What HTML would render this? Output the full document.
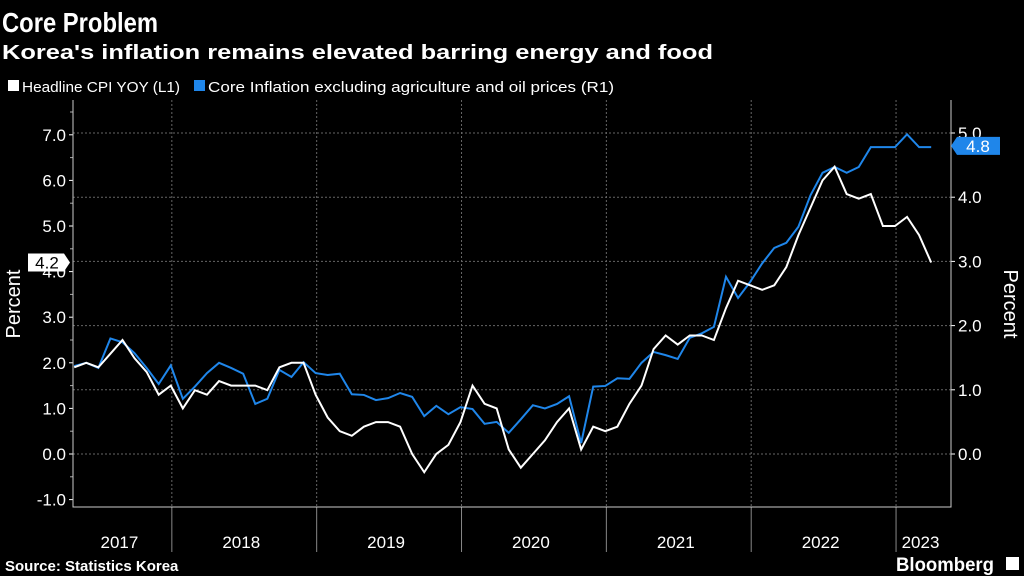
<!DOCTYPE html>
<html><head><meta charset="utf-8"><style>
html,body{margin:0;padding:0;background:#000;width:1024px;height:576px;overflow:hidden}
svg{display:block;font-family:"Liberation Sans",sans-serif}
</style></head><body>
<svg id="chart" width="1024" height="576" xmlns="http://www.w3.org/2000/svg">
<rect width="1024" height="576" fill="#000"/>
<text x="2" y="32" fill="#fff" font-size="28" font-weight="bold" textLength="156" lengthAdjust="spacingAndGlyphs">Core Problem</text>
<text x="2" y="59" fill="#fff" font-size="20" font-weight="bold" textLength="711" lengthAdjust="spacingAndGlyphs">Korea's inflation remains elevated barring energy and food</text>
<g>
<rect x="8" y="80" width="11" height="11" fill="#fff"/>
<text x="22" y="92" fill="#fff" font-size="15" textLength="158" lengthAdjust="spacingAndGlyphs">Headline CPI YOY (L1)</text>
<rect x="194" y="80" width="11" height="11" fill="#1f86ea"/>
<text x="208" y="92" fill="#fff" font-size="15" textLength="406" lengthAdjust="spacingAndGlyphs">Core Inflation excluding agriculture and oil prices (R1)</text>
</g>
<g id="grid"></g>
<g id="axes"></g>
<g id="series"></g>
<text transform="translate(20,304) rotate(-90)" text-anchor="middle" fill="#fff" font-size="20">Percent</text>
<text transform="translate(1004,304) rotate(90)" text-anchor="middle" fill="#fff" font-size="20">Percent</text>
<text x="5" y="571" fill="#fff" font-size="15" font-weight="bold">Source: Statistics Korea</text>
<text x="896" y="571" fill="#fff" font-size="19" font-weight="bold" textLength="98" lengthAdjust="spacingAndGlyphs">Bloomberg</text>
<rect x="1006" y="557" width="13" height="13" fill="#fff"/>
</svg>
<script>
const years = ["2017","2018","2019","2020","2021","2022","2023"];
const leftTicks = [-1,0,1,2,3,4,5,6,7];
const rightTicks = [0,1,2,3,4,5];
const startIndex = 3; // Apr 2017, months from Jan 2017
const headline = [1.9,2.0,1.9,2.2,2.5,2.1,1.8,1.3,1.5,1.0,1.4,1.3,1.6,1.5,1.5,1.5,1.4,1.9,2.0,2.0,1.3,0.8,0.5,0.4,0.6,0.7,0.7,0.6,0.0,-0.4,0.0,0.2,0.7,1.5,1.1,1.0,0.1,-0.3,0.0,0.3,0.7,1.0,0.1,0.6,0.5,0.6,1.1,1.5,2.3,2.6,2.4,2.6,2.6,2.5,3.2,3.8,3.7,3.6,3.7,4.1,4.8,5.4,6.0,6.3,5.7,5.6,5.7,5.0,5.0,5.2,4.8,4.2];
const core = [1.37,1.42,1.34,1.80,1.74,1.57,1.34,1.09,1.38,0.86,1.05,1.26,1.42,1.34,1.25,0.78,0.86,1.31,1.2,1.43,1.26,1.23,1.25,0.93,0.92,0.84,0.87,0.95,0.89,0.59,0.75,0.62,0.73,0.70,0.47,0.50,0.33,0.54,0.76,0.71,0.78,0.90,0.17,1.05,1.06,1.18,1.17,1.42,1.59,1.54,1.48,1.81,1.88,1.98,2.76,2.43,2.68,2.97,3.21,3.29,3.54,4.03,4.38,4.47,4.38,4.47,4.78,4.78,4.78,4.98,4.78,4.78];
const NS="http://www.w3.org/2000/svg";
const L=73,R=951,T=100,B=507;
const xM=i=>38+i*12.07;
const yL=v=>454-v*45.6;
const yR=v=>454-v*64.2;
function mk(tag,attrs,parent){const e=document.createElementNS(NS,tag);for(const k in attrs)e.setAttribute(k,attrs[k]);parent.appendChild(e);return e;}
const grid=document.getElementById('grid'),axes=document.getElementById('axes'),ser=document.getElementById('series');
leftTicks.forEach(v=>{
  const y=yL(v);
  const t=mk('text',{x:66,y:y+6,'text-anchor':'end',fill:'#fff','font-size':17},axes);
  t.textContent=v.toFixed(1);
  
  
  mk('line',{x1:L-4,x2:L,y1:y,y2:y,stroke:'#fff'},axes);
  mk('line',{x1:L-3,x2:L,y1:y-22.8,y2:y-22.8,stroke:'#aaa'},axes);
});
rightTicks.forEach(v=>{
  const y=yR(v);
  const g=mk('line',{x1:L,x2:R,y1:y,y2:y,stroke:'#666','stroke-dasharray':'2,2','stroke-width':1},grid);
  
  
  const t=mk('text',{x:958,y:y+6,fill:'#fff','font-size':17},axes);
  t.textContent=v.toFixed(1);
  
  
  mk('line',{x1:R,x2:R+4,y1:y,y2:y,stroke:'#fff'},axes);
});
years.forEach((yr,k)=>{
  const x0=Math.max(L,xM(k*12)-11), x1=Math.min(R,xM(k*12+12)-11);
  if(k>0){
    const xs=xM(k*12)-11;
    const vl=mk('line',{x1:xs,x2:xs,y1:T,y2:B,stroke:'#666','stroke-dasharray':'2,2'},grid);
    
    
    mk('line',{x1:xs,x2:xs,y1:B,y2:552,stroke:'#888'},axes);
  }
  const t=mk('text',{x:(x0+x1)/2-3,y:548,'text-anchor':'middle',fill:'#fff','font-size':17},axes);
  t.textContent=yr;
  
  
});
const ax=mk('path',{d:`M${L},${T}V${B}H${R}V${T}`,fill:'none',stroke:'#ccc','stroke-width':1},axes);


const p1=mk('polyline',{points:core.map((v,i)=>xM(startIndex+i)+','+yR(v)).join(' '),fill:'none',stroke:'#1f86ea','stroke-width':2},ser);


const p2=mk('polyline',{points:headline.map((v,i)=>xM(startIndex+i)+','+yL(v)).join(' '),fill:'none',stroke:'#fff','stroke-width':2},ser);


const hl=headline[headline.length-1], hy=yL(hl);
const tg1=mk('path',{d:`M28,${hy-9}H64L70,${hy}L64,${hy+9}H28Z`,fill:'#fff'},ser);


const tt1=mk('text',{x:47,y:hy+6,'text-anchor':'middle',fill:'#000','font-size':17},ser);
tt1.textContent=hl.toFixed(1);


const cl=core[core.length-1], cy=yR(Math.round(cl*10)/10);
const tg2=mk('path',{d:`M951,${cy}L957,${cy-9}H1000V${cy+9}H957Z`,fill:'#1f86ea'},ser);


const tt2=mk('text',{x:978,y:cy+6,'text-anchor':'middle',fill:'#fff','font-size':17},ser);
tt2.textContent=cl.toFixed(1);


</script>
</body></html>
